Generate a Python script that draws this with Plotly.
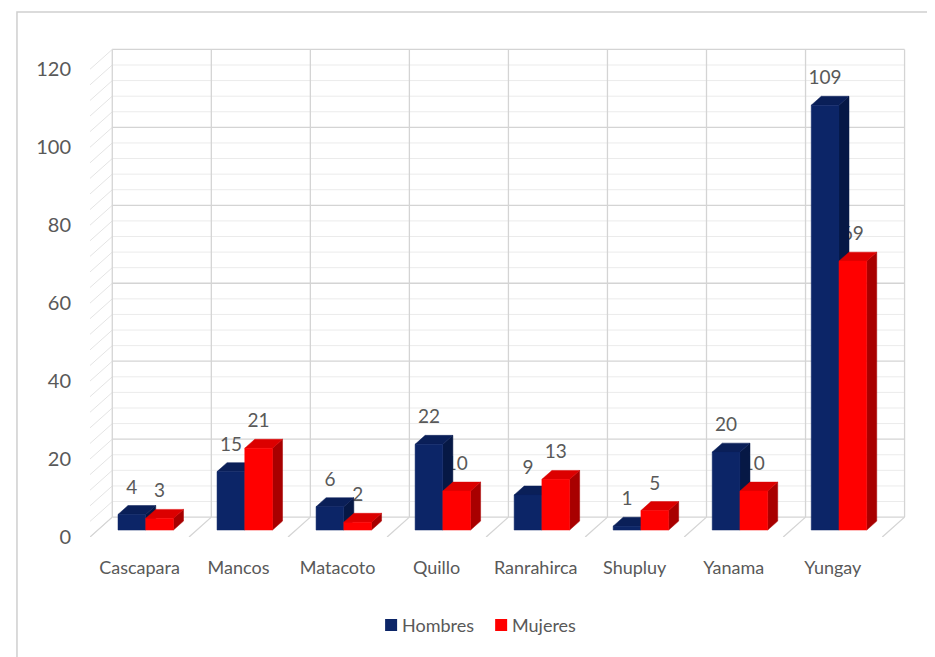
import plotly.graph_objects as go

# data
distritos = ["Cascapara", "Mancos", "Matacoto", "Quillo", "Ranrahirca", "Shupluy", "Yanama", "Yungay"]
hombres = [4, 15, 6, 22, 9, 1, 20, 109]
mujeres = [3, 21, 2, 10, 13, 5, 10, 69]
y_ticks = [0, 20, 40, 60, 80, 100, 120]

# colours for front / top / side of the fake 3D bars
azul = ["#0c2567", "#0a1f58", "#061845"]
rojo = ["#ff0000", "#dc0000", "#a80000"]
gris_txt = "#595959"

# 3D projection helpers (data units)
dxw, dyw = 0.225, 5.1        # depth of the whole floor / wall
f1, f2 = 0.35, 0.80          # bar front and back depth as fraction of floor
ddx, ddy = (f2 - f1) * dxw, (f2 - f1) * dyw
bw = 0.28
series = [(hombres, 0.204, azul, "Hombres"), (mujeres, 0.484, rojo, "Mujeres")]

fig = go.Figure()
shapes = []
annots = []

def line(x0, y0, x1, y1, color, width=1):
    shapes.append(dict(type="line", xref="x", yref="y", x0=x0, y0=y0, x1=x1, y1=y1,
                       line=dict(color=color, width=width), layer="below"))

# back wall + left wall hatch + floor
ymax = 120
for v in range(0, ymax + 1, 4):
    major = v % 20 == 0
    col = "#d4d4d4" if major else "#ebebeb"
    line(dxw, v + dyw, len(distritos) + dxw, v + dyw, col, 1.3 if major else 1)
    line(0, v, dxw, v + dyw, "#e4e4e4")
for i in range(len(distritos) + 1):
    line(i + dxw, dyw, i + dxw, ymax + dyw, "#d4d4d4", 1.3)
    line(i, 0, i + dxw, dyw, "#d4d4d4", 1.3)

# data labels first, so the bars hide them like in Excel
for vals, off, cols, name in series:
    fig.add_trace(go.Scatter(
        x=[i + off + f1 * dxw + bw / 2 for i in range(len(vals))],
        y=[f1 * dyw + v + ddy + 4.3 for v in vals],
        text=[str(v) for v in vals], mode="text",
        textfont=dict(size=19, color=gris_txt, family="Lato"),
        showlegend=False, hoverinfo="skip"))

for vals, off, cols, name in series:
    for i, v in enumerate(vals):
        xl = i + off + f1 * dxw
        xr = xl + bw
        yb = f1 * dyw
        yt = yb + v
        side_x = [xr, xr + ddx, xr + ddx, xr, xr]
        side_y = [yb, yb + ddy, yt + ddy, yt, yb]
        top_x = [xl, xr, xr + ddx, xl + ddx, xl]
        top_y = [yt, yt, yt + ddy, yt + ddy, yt]
        front_x = [xl, xr, xr, xl, xl]
        front_y = [yb, yb, yt, yt, yb]
        for px, py, c in [(side_x, side_y, cols[2]), (top_x, top_y, cols[1]), (front_x, front_y, cols[0])]:
            fig.add_trace(go.Scatter(x=px, y=py, mode="lines", fill="toself", fillcolor=c,
                                     line=dict(color=c, width=0.5), showlegend=False,
                                     hoverinfo="skip"))

# plot area in pixels (page has an 8px body margin)
pw, ph = 821.7, 495.0
def px_x(p):
    return (p - 90) / pw
def px_y(p):
    return (537 - p) / ph

# legend drawn by hand: square + label
leg_x = [385, 495]
for (vals, off, cols, name), lx in zip(series, leg_x):
    shapes.append(dict(type="rect", xref="paper", yref="paper",
                       x0=px_x(lx), x1=px_x(lx + 12), y0=px_y(631), y1=px_y(619),
                       fillcolor=cols[0], line=dict(width=0)))
    annots.append(dict(text=name, xref="paper", yref="paper", x=px_x(lx + 15), y=px_y(625),
                       xanchor="left", yanchor="middle", showarrow=False,
                       font=dict(size=18, color=gris_txt, family="Lato")))

# outer frame of the picture
shapes.append(dict(type="rect", xref="paper", yref="paper",
                   x0=px_x(17), x1=px_x(960), y0=px_y(700), y1=px_y(12),
                   line=dict(color="#cfcfcf", width=1.5), layer="below"))

fig.update_layout(
    width=935, height=657,
    margin=dict(l=82, r=31.3, t=34, b=128),
    paper_bgcolor="white", plot_bgcolor="white",
    font=dict(family="Lato", color=gris_txt),
    shapes=shapes, annotations=annots,
    showlegend=False,
    xaxis=dict(range=[0, 8.3], showgrid=False, zeroline=False, showline=False,
               tickvals=[i + 0.5 for i in range(len(distritos))], ticktext=distritos,
               tickfont=dict(size=18, color=gris_txt), ticks="", ticklabelstandoff=18,
               automargin=False),
    yaxis=dict(range=[0, 127], showgrid=False, zeroline=False, showline=False,
               tickvals=y_ticks, tickfont=dict(size=20, color=gris_txt),
               ticks="", ticklabelstandoff=18, automargin=False),
)

fig.write_html("out.html")
